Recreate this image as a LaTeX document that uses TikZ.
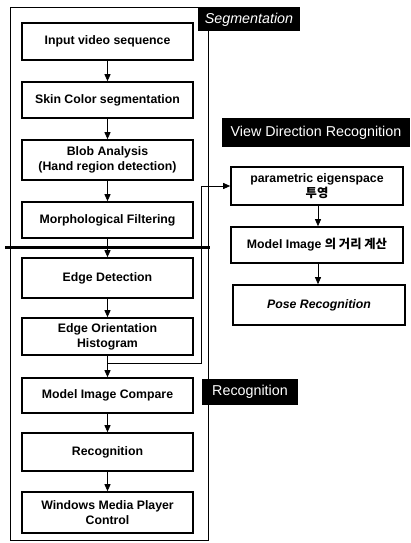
\documentclass[tikz,border=0pt]{standalone}
\usepackage{fontspec}
\setmainfont{Liberation Sans}
\newfontfamily\kr{Noto Sans CJK KR}
\usetikzlibrary{arrows.meta}
\begin{document}
\begin{tikzpicture}[x=1pt,y=-1pt,
  stepbox/.style={draw,line width=1.6pt,inner sep=0pt,align=center,
     font=\fontsize{12.3}{15}\selectfont\bfseries},
  lbox/.style={stepbox,minimum width=171pt},
  rbox/.style={stepbox,minimum width=172pt},
  tag/.style={fill=black,text=white,inner sep=0pt,
     font=\fontsize{14.3}{16}\selectfont},
  flow/.style={line width=0.8pt,-{Triangle[length=7pt,width=6pt]}},
  frame/.style={line width=0.8pt}]
\useasboundingbox (0,0) rectangle (410,543);
% outer frame
\draw[frame] (10,7) rectangle (208,540);
% left column
\node[lbox,minimum height=37pt] (n1) at (107.5,41.5) {Input video sequence};
\node[lbox,minimum height=36pt] (n2) at (107.5,100) {Skin Color segmentation};
\node[lbox,minimum height=40pt] (n3) at (107.5,160) {Blob Analysis\\(Hand region detection)};
\node[lbox,minimum height=36pt] (n4) at (107.5,220) {Morphological Filtering};
\node[lbox,minimum height=40pt] (n5) at (107.5,278) {Edge Detection};
\node[lbox,minimum height=37pt] (n6) at (107.5,336.5) {Edge Orientation\\Histogram};
\node[lbox,minimum height=35pt] (n7) at (107.5,395.5) {Model Image Compare};
\node[lbox,minimum height=38pt] (n8) at (107.5,452) {Recognition};
\node[lbox,minimum height=41pt] (n9) at (107.5,512.5) {Windows Media Player\\Control};
% thick separator
\draw[line width=3pt] (5,247) -- (210,247);
% right column
\node[rbox,minimum height=38pt] (r1) at (317,186) {parametric eigenspace\\{\kr 투영}};
\node[rbox,minimum height=36pt] (r2) at (317,245) {Model Image {\kr 의 거리 계산}};
\node[rbox,minimum height=40pt] (r3) at (319,305) {\itshape Pose Recognition};
% labels
\node[tag,minimum width=102pt,minimum height=24pt] (t1) at (249,19.5) {\itshape Segmentation};
\node[tag,minimum width=188pt,minimum height=29pt] (t2) at (316,132.5) {View Direction Recognition};
\node[tag,minimum width=96pt,minimum height=26pt] (t3) at (250,392) {Recognition};
% arrows
\draw[flow] (n1) -- (n2);
\draw[flow] (n2) -- (n3);
\draw[flow] (n3) -- (n4);
\draw[flow] (n4) -- (n5);
\draw[flow] (n5) -- (n6);
\draw[flow] (n6) -- (n7);
\draw[flow] (n7) -- (n8);
\draw[flow] (n8) -- (n9);
\draw[flow] (r1.south -| 318,0) -- (r2.north -| 318,0);
\draw[flow] (r2.south -| 318,0) -- (r3.north -| 318,0);
% loop to view direction
\coordinate (j1) at (107.5,363);
\coordinate (j2) at (201,363);
\coordinate (j3) at (201,186);
\draw[flow] (j1) -- (j2) -- (j3) -- (r1.west);
\end{tikzpicture}
\end{document}
